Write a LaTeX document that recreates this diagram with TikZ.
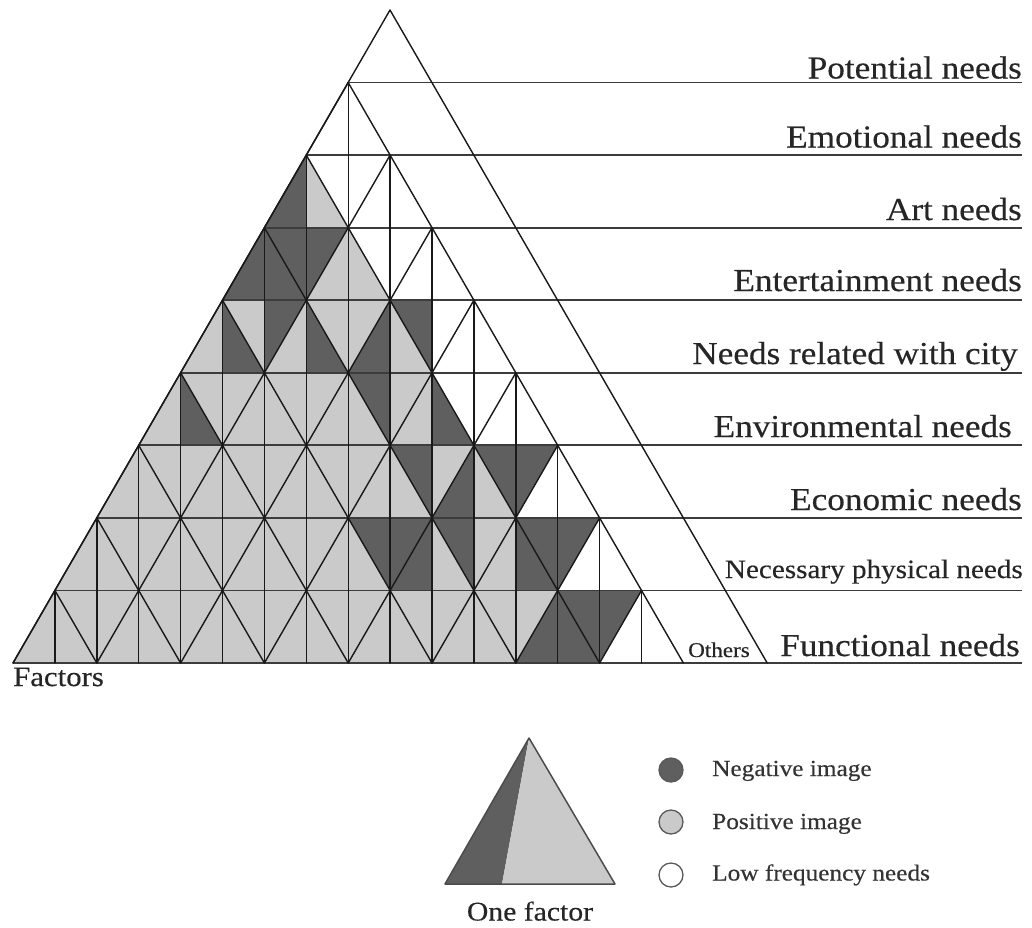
\documentclass[tikz,border=0pt]{standalone}
\usepackage{fontspec}
\setmainfont{Liberation Serif}
\newfontfamily\lblfont[FakeStretch=1.1,FakeBold=0.35]{Liberation Serif}
\definecolor{negc}{RGB}{95,95,95}
\definecolor{posc}{RGB}{202,202,202}
\definecolor{linec}{RGB}{25,25,25}
\definecolor{rulec}{RGB}{60,60,60}
\begin{document}
\begin{tikzpicture}[x=1pt,y=-1pt,
  gridline/.style={draw=linec,line width=1.4pt,line join=round,line cap=round},
  hline/.style={draw=rulec,line width=1.8pt},
  halfN/.style={fill=negc},
  halfP/.style={fill=posc},
  halfW/.style={fill=white},
  rowlabel/.style={anchor=base east,inner sep=0pt,text=black!85,font=\lblfont\fontsize{32}{32}\selectfont},
  smalllabel/.style={anchor=base west,inner sep=0pt,text=black!85,font=\lblfont\fontsize{21}{21}\selectfont},
  legtext/.style={anchor=base west,inner sep=0pt,text=black!80,font=\lblfont\fontsize{23}{23}\selectfont},
  legdot/.style={circle,draw=black!65,line width=1.3pt,minimum size=24pt,inner sep=0pt},
  legline/.style={draw=black!70,line width=1.5pt,line join=round}
]
\useasboundingbox (0,0) rectangle (1032,927);
\fill[white] (0,0) rectangle (1032,927);
\def\hw{41.9}
\def\rh{72.556}

% shaded halves, row by row: U0L U0R D0L D0R U1L U1R ...
\foreach \r/\codes in {
  1/{W,W},
  2/{N,P,W,W,W,W},
  3/{N,N,N,N,P,P,W,W,W,W},
  4/{P,N,P,N,P,N,P,P,N,P,N,W,W,W},
  5/{P,N,P,P,P,P,P,P,P,P,N,P,P,N,W,W,W,W},
  6/{P,P,P,P,P,P,P,P,P,P,P,P,P,P,N,P,N,P,N,N,W,W},
  7/{P,P,P,P,P,P,P,P,P,P,P,P,P,P,N,N,N,P,N,P,P,N,N,N,W,W},
  8/{P,P,P,P,P,P,P,P,P,P,P,P,P,P,P,P,P,P,P,P,P,P,P,P,N,N,N,N,W,W}}{
  \pgfmathsetmacro\yt{10+\r*\rh}
  \pgfmathsetmacro\yb{\yt+\rh}
  \pgfmathsetmacro\xl{13+(8-\r)*\hw}
  \foreach \code [count=\kk from 0] in \codes {
    \pgfmathtruncatemacro\tri{floor(\kk/2)}
    \pgfmathtruncatemacro\sd{mod(\kk,2)}
    \pgfmathtruncatemacro\dn{mod(\tri,2)}
    \pgfmathsetmacro\xa{\xl+(\tri+\sd)*\hw}
    \pgfmathsetmacro\xb{\xa+\hw}
    \ifnum\dn=0
      \ifnum\sd=0
        \fill[half\code] (\xa,\yb) -- (\xb,\yb) -- (\xb,\yt) -- cycle;
      \else
        \fill[half\code] (\xa,\yt) -- (\xa,\yb) -- (\xb,\yb) -- cycle;
      \fi
    \else
      \ifnum\sd=0
        \fill[half\code] (\xa,\yt) -- (\xb,\yt) -- (\xb,\yb) -- cycle;
      \else
        \fill[half\code] (\xa,\yt) -- (\xb,\yt) -- (\xa,\yb) -- cycle;
      \fi
    \fi
  }
}

% row rules running out to the labels
\foreach \k in {1,...,9} {
  \pgfmathsetmacro\yy{10+\k*\rh}
  \pgfmathsetmacro\xx{13+(9-\k)*\hw}
  \draw[hline] (\xx,\yy) -- (1022,\yy);
}

% lattice lines rising to the right
\foreach \k in {0,...,7} {
  \draw[gridline] ({13+2*\k*\hw},663) -- ({13+(8+\k)*\hw},{663-(8-\k)*\rh});
}
% lattice lines rising to the left
\foreach \k in {1,...,8} {
  \draw[gridline] ({13+2*\k*\hw},663) -- ({13+\k*\hw},{663-\k*\rh});
}
% vertical splits of every small triangle
\foreach \r in {1,...,8} {
  \pgfmathsetmacro\yt{10+\r*\rh}
  \pgfmathsetmacro\yb{\yt+\rh}
  \pgfmathsetmacro\xl{13+(8-\r)*\hw}
  \pgfmathtruncatemacro\mm{2*\r-1}
  \foreach \m in {1,...,\mm} {
    \draw[gridline] ({\xl+\m*\hw},\yt) -- ({\xl+\m*\hw},\yb);
  }
}
% outer triangle
\draw[gridline] (13,663) -- (390,10) -- ({13+18*\hw},663);

% row labels
\node[rowlabel] (lpot) at (1022,78.5) {Potential needs};
\node[rowlabel] (lemo) at (1022,147.5) {Emotional needs};
\node[rowlabel] (lart) at (1022,220) {Art needs};
\node[rowlabel] (lent) at (1022,291) {Entertainment needs};
\node[rowlabel] (lcity) at (1018,364) {Needs related with city};
\node[rowlabel] (lenv) at (1012,437) {Environmental needs};
\node[rowlabel] (leco) at (1022,510) {Economic needs};
\node[rowlabel,font=\lblfont\fontsize{26.5}{26.5}\selectfont] (lnec) at (1023,578) {Necessary physical needs};
\node[rowlabel] (lfun) at (1020,656) {Functional needs};
\node[smalllabel] (loth) at (688,657) {Others};
\node[anchor=base west,inner sep=0pt,text=black!85,font=\lblfont\fontsize{28}{28}\selectfont] (lfac) at (13,686) {Factors};

% legend: one factor
\fill[negc] (445,884) -- (529,738) -- (502,884) -- cycle;
\fill[posc] (502,884) -- (529,738) -- (615,884) -- cycle;
\draw[legline] (445,884) -- (529,738) -- (615,884) -- cycle;
\node[anchor=base,inner sep=0pt,text=black!85,font=\lblfont\fontsize{27}{27}\selectfont] (lone) at (530,920.5) {One factor};

% legend: keys
\node[legdot,fill=negc] (dneg) at (671,770) {};
\node[legdot,fill=posc] (dpos) at (671,822) {};
\node[legdot,fill=white] (dlow) at (671,875) {};
\node[legtext] (tneg) at (712,776) {Negative image};
\node[legtext] (tpos) at (712,829) {Positive image};
\node[legtext] (tlow) at (712,880.5) {Low frequency needs};
\end{tikzpicture}
\end{document}
